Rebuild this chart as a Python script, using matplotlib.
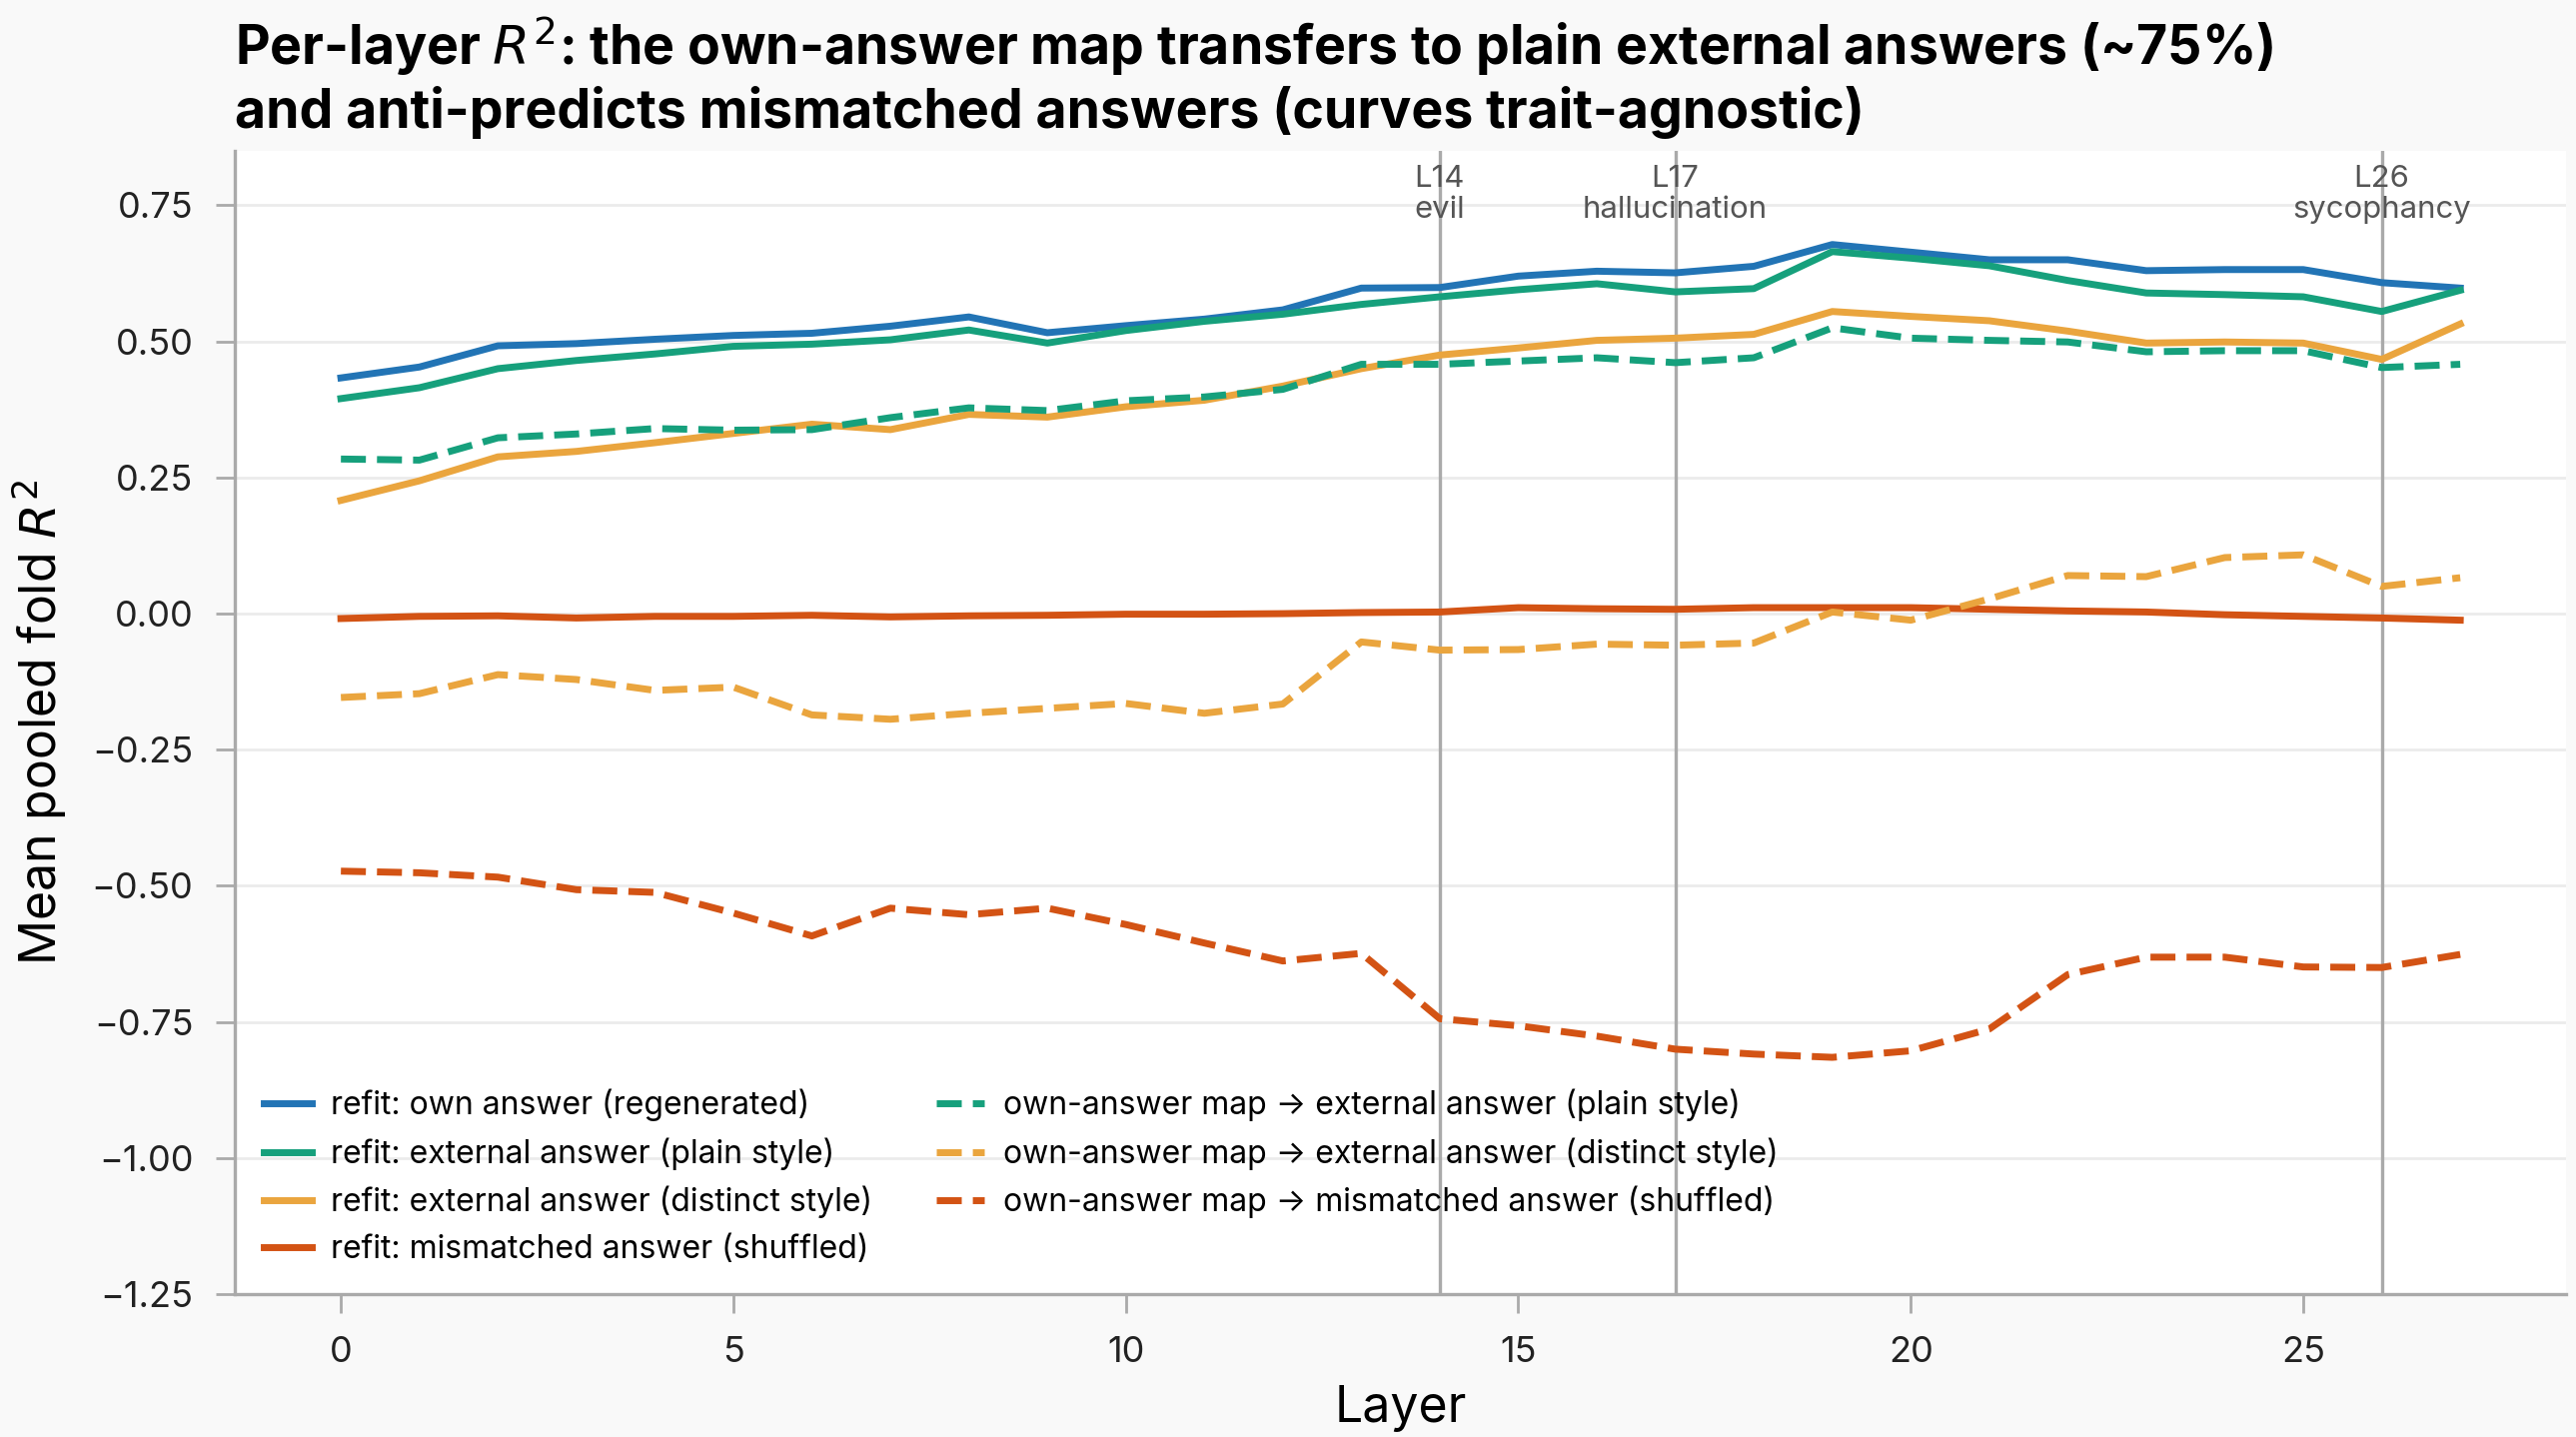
import matplotlib
matplotlib.use("Agg")
import matplotlib.pyplot as plt
import matplotlib.transforms as mtransforms
import numpy as np

plt.rcParams['font.family'] = ['Inter', 'DejaVu Sans']
plt.rcParams['axes.unicode_minus'] = True

layers = list(range(28))

own_regen = [0.433, 0.453, 0.492, 0.496, 0.504, 0.511, 0.515, 0.528, 0.545, 0.516,
             0.529, 0.541, 0.558, 0.598, 0.599, 0.620, 0.629, 0.626, 0.638, 0.678,
             0.664, 0.650, 0.650, 0.630, 0.632, 0.632, 0.608, 0.598]
ext_plain = [0.395, 0.415, 0.450, 0.465, 0.477, 0.491, 0.495, 0.503, 0.521, 0.497,
             0.520, 0.537, 0.550, 0.568, 0.582, 0.595, 0.606, 0.591, 0.597, 0.665,
             0.653, 0.639, 0.612, 0.589, 0.586, 0.582, 0.555, 0.594]
ext_distinct = [0.208, 0.244, 0.288, 0.298, 0.314, 0.331, 0.348, 0.338, 0.366, 0.361,
                0.380, 0.392, 0.418, 0.450, 0.475, 0.488, 0.502, 0.506, 0.513, 0.555,
                0.546, 0.538, 0.519, 0.497, 0.499, 0.497, 0.467, 0.532]
mismatch = [-0.009, -0.005, -0.004, -0.008, -0.005, -0.005, -0.003, -0.006, -0.004, -0.003,
            -0.001, -0.001, 0.000, 0.002, 0.003, 0.011, 0.009, 0.008, 0.011, 0.011,
            0.011, 0.008, 0.005, 0.003, -0.002, -0.005, -0.008, -0.012]
tr_plain = [0.284, 0.282, 0.323, 0.330, 0.340, 0.337, 0.338, 0.360, 0.378, 0.373,
            0.391, 0.398, 0.412, 0.458, 0.458, 0.464, 0.470, 0.461, 0.470, 0.525,
            0.506, 0.502, 0.499, 0.481, 0.483, 0.483, 0.452, 0.458]
tr_distinct = [-0.154, -0.147, -0.112, -0.121, -0.141, -0.135, -0.186, -0.194, -0.183, -0.174,
               -0.165, -0.183, -0.166, -0.052, -0.067, -0.066, -0.056, -0.058, -0.054, 0.003,
               -0.012, 0.027, 0.070, 0.068, 0.103, 0.108, 0.050, 0.066]
tr_mismatch = [-0.473, -0.476, -0.484, -0.507, -0.512, -0.550, -0.592, -0.541, -0.553, -0.541,
               -0.571, -0.605, -0.638, -0.624, -0.744, -0.757, -0.776, -0.800, -0.809, -0.815,
               -0.803, -0.763, -0.663, -0.631, -0.631, -0.649, -0.650, -0.626]

solid_labels = ["refit: own answer (regenerated)", "refit: external answer (plain style)",
                "refit: external answer (distinct style)", "refit: mismatched answer (shuffled)"]
dashed_labels = ["own-answer map \u2192 external answer (plain style)",
                 "own-answer map \u2192 external answer (distinct style)",
                 "own-answer map \u2192 mismatched answer (shuffled)"]

marker_layers = [14, 17, 26]
marker_texts = ["L14\nevil", "L17\nhallucination", "L26\nsycophancy"]

c_blue = "#2274b5"
c_green = "#16a07c"
c_orange = "#eaa53e"
c_red = "#d35314"

fig = plt.figure(figsize=(12.89, 7.19), dpi=200, facecolor="#f9f9f9")
ax = fig.add_axes([0.0912, 0.0994, 0.905, 0.7956])
ax.set_facecolor("white")

lw = 2.5
dash = (0, (3.6, 1.6))
h1, = ax.plot(layers, own_regen, color=c_blue, lw=lw, label=solid_labels[0])
h2, = ax.plot(layers, ext_plain, color=c_green, lw=lw, label=solid_labels[1])
h3, = ax.plot(layers, ext_distinct, color=c_orange, lw=lw, label=solid_labels[2])
h4, = ax.plot(layers, mismatch, color=c_red, lw=lw, label=solid_labels[3])
h5, = ax.plot(layers, tr_plain, color=c_green, lw=lw, ls=dash, label=dashed_labels[0])
h6, = ax.plot(layers, tr_distinct, color=c_orange, lw=lw, ls=dash, label=dashed_labels[1])
h7, = ax.plot(layers, tr_mismatch, color=c_red, lw=lw, ls=dash, label=dashed_labels[2])

trans = mtransforms.blended_transform_factory(ax.transData, ax.transAxes)
for L, t in zip(marker_layers, marker_texts):
    ax.axvline(L, color="#aaaaaa", lw=1.2, zorder=1)
    ax.text(L, 0.988, t, transform=trans, ha="center", va="top",
            fontsize=11.2, color="#555555", linespacing=1.15)

ax.set_xlim(-1.35, 28.35)
ax.set_ylim(-1.25, 0.85)
ax.set_yticks([0.75, 0.5, 0.25, 0.0, -0.25, -0.5, -0.75, -1.0, -1.25])
ax.set_xticks([0, 5, 10, 15, 20, 25])
ax.yaxis.grid(True, color="#ebebeb", lw=1.0)
ax.set_axisbelow(True)
for s in ["top", "right"]:
    ax.spines[s].set_visible(False)
for s in ["left", "bottom"]:
    ax.spines[s].set_color("#aaaaaa")
    ax.spines[s].set_linewidth(1.2)
ax.tick_params(axis="both", colors="#aaaaaa", labelcolor="#222222", labelsize=13,
               length=7, width=1.0, pad=8)

ax.set_xlabel("Layer", fontsize=18, labelpad=6)
ax.set_ylabel("Mean pooled fold $R^2$", fontsize=18, labelpad=8)

ax.legend(handles=[h1, h2, h3, h4, h5, h6, h7], loc="lower left", ncol=2,
          frameon=False, fontsize=11.5, handlelength=1.5, handletextpad=0.6,
          columnspacing=2.0, borderaxespad=0.5, labelspacing=0.5)

fig.text(0.0912, 0.99, "Per-layer $R^2$: the own-answer map transfers to plain external answers (~75%)\n"
         "and anti-predicts mismatched answers (curves trait-agnostic)",
         ha="left", va="top", fontsize=19.3, fontweight="bold", linespacing=1.2)

fig.savefig("out.png", dpi=200, facecolor=fig.get_facecolor())
